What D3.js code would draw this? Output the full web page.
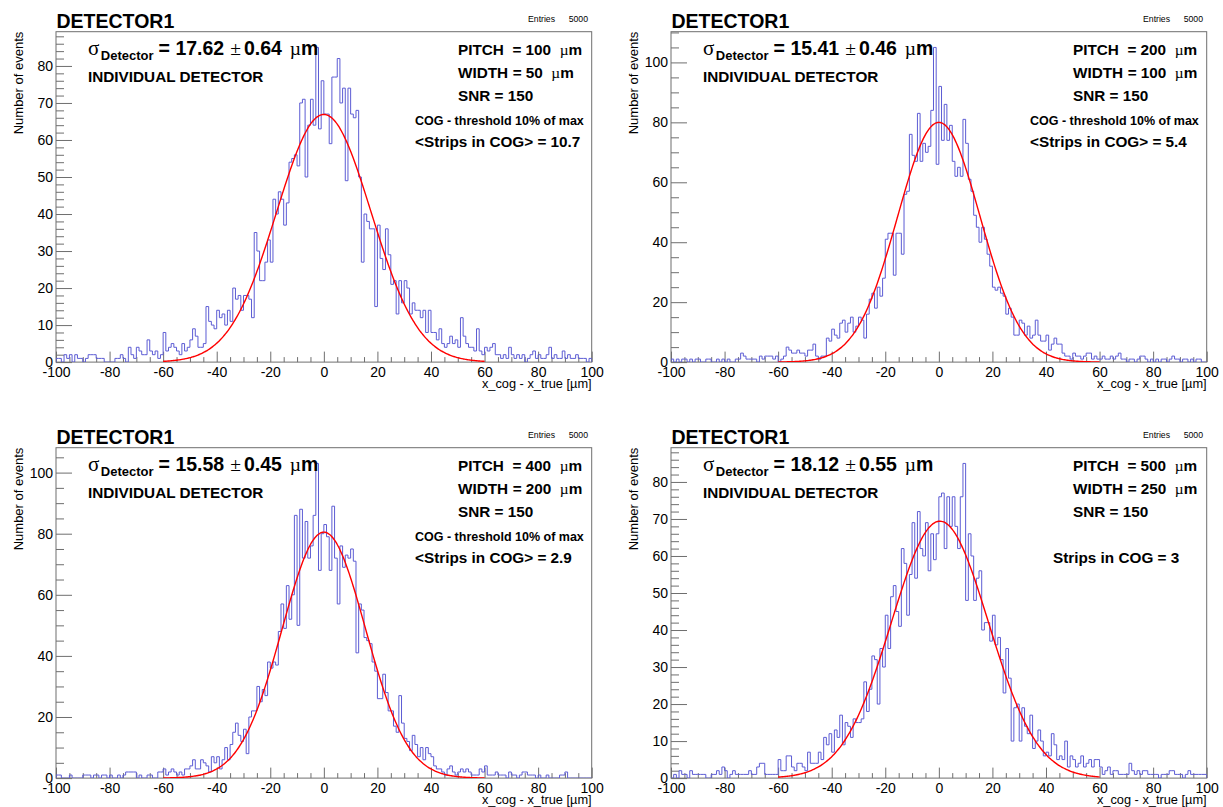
<!DOCTYPE html>
<html>
<head>
<meta charset="utf-8">
<script src="https://cdn.jsdelivr.net/npm/d3@7"></script>
<style>
  body { margin: 0; background: #fff; }
  svg { display: block; }
  text { font-family: "Liberation Sans", Arial, Helvetica, sans-serif; fill: #000; }
</style>
</head>
<body>
<svg id="canvas" width="1223" height="807"></svg>
<script>
// Residual distributions x_cog - x_true, 200 bins of 1 um between -100 and 100.
const binLow = -100;
const binWidth = 1;

const countsPitch100 = [
  1,1,0,2,1,2,0,2,1,1,  0,1,2,2,2,1,1,1,0,0,
  0,0,1,1,2,1,0,4,2,1,  4,3,2,2,6,3,2,3,1,2,
  8,3,4,5,4,3,2,5,3,4,  6,9,7,4,4,5,15,11,10,9,
  14,12,13,10,14,11,20,17,18,14,  18,18,17,12,35,30,22,22,27,33,
  27,44,40,46,44,37,43,54,55,56,  53,70,71,50,64,71,64,85,63,76,
  67,67,59,77,77,82,70,74,49,74,  67,66,68,50,27,40,38,36,36,15,
  37,28,25,36,29,21,22,13,22,16,  22,20,13,16,14,14,12,14,8,14,
  8,8,6,9,5,4,5,7,5,6,  4,12,7,5,4,4,3,9,3,2,
  4,3,4,5,2,2,1,2,1,4,  2,1,2,1,2,0,1,2,3,1,
  2,1,1,2,4,1,2,1,1,3,  1,2,1,1,2,1,1,1,0,1
];

const countsPitch200 = [
  1,0,1,0,1,1,0,1,0,1,  1,0,0,1,1,0,0,1,0,1,
  0,1,0,0,1,1,3,2,1,1,  1,1,0,2,1,2,2,2,1,2,
  0,1,2,5,4,3,3,4,3,3,  2,4,4,6,2,1,2,2,8,7,
  11,9,8,13,14,10,13,15,10,12,  15,14,8,16,21,23,18,25,22,28,
  41,43,43,29,43,43,36,56,57,76,  69,67,83,67,73,70,72,84,105,66,
  92,74,86,74,79,67,62,65,62,81,  73,61,57,49,45,40,45,41,36,32,
  25,24,25,23,22,16,18,15,9,9,  14,13,9,12,8,9,14,9,7,7,
  9,4,6,8,6,6,3,2,2,1,  3,2,2,1,2,3,3,1,2,1,
  1,2,1,1,2,1,2,3,1,1,  0,1,1,0,1,2,2,1,0,1,
  0,1,0,1,1,0,1,2,1,1,  0,1,1,0,1,0,1,1,0,0
];

const countsPitch400 = [
  1,1,0,0,0,1,0,0,0,0,  1,1,1,0,1,1,0,1,1,0,
  1,0,0,1,0,1,2,2,2,2,  0,1,0,0,1,1,0,0,2,2,
  3,1,2,3,2,1,2,1,3,3,  4,6,3,3,6,5,4,2,7,5,
  7,3,6,10,6,11,15,18,14,12,  16,8,20,22,22,30,25,29,27,38,
  36,38,37,48,57,49,63,52,60,86,  50,88,72,84,72,76,86,103,68,80,
  83,79,68,89,72,57,76,69,73,72,  75,71,41,57,55,46,45,44,38,35,
  26,26,34,28,22,22,17,15,27,18,  13,12,9,14,11,7,10,6,10,8,
  7,4,3,3,2,1,3,4,2,1,  2,3,2,3,2,1,1,1,3,2,
  4,1,1,1,2,1,1,1,0,2,  1,1,0,1,2,2,1,1,1,0,
  1,0,0,1,0,0,0,0,1,1,  2,0,0,0,0,0,0,0,0,0
];

const countsPitch500 = [
  0,1,0,2,1,1,0,2,1,1,  1,1,1,0,0,1,1,2,1,3,
  2,0,1,2,1,1,1,1,1,2,  1,1,3,4,4,1,1,1,1,1,
  5,2,2,6,6,3,2,4,4,3,  2,7,4,4,4,7,5,11,9,12,
  7,13,11,17,9,15,14,11,16,15,  15,16,26,18,24,33,32,20,35,30,
  44,35,49,52,45,41,62,58,44,55,  69,54,72,62,60,69,56,66,59,66,
  76,77,62,76,68,76,68,62,76,85,  48,66,60,48,54,56,40,42,42,37,
  44,36,38,32,23,35,27,10,19,20,  10,19,14,12,17,8,10,13,10,6,
  7,6,12,9,5,6,5,10,3,6,  5,3,4,6,3,4,5,3,5,5,
  3,1,2,3,1,2,2,1,1,1,  1,4,2,1,2,1,2,2,1,1,
  1,1,0,1,1,1,2,2,1,1,  1,0,1,2,1,1,1,1,1,1
];

// Gaussian fit results (sigma is the quoted detector resolution)
const sigmaValues   = [17.62, 15.41, 15.58, 18.12];
const sigmaErrors   = [0.64, 0.46, 0.45, 0.55];
const fitAmplitudes = [66.9, 80.0, 80.5, 69.4];
const fitMeans      = [0.0, 0.0, 0.0, 0.4];
const fitRange      = [-60, 60];

// Detector settings per pad
const pitchValues = [100, 200, 400, 500];
const widthValues = [50, 100, 200, 250];
const snrValues   = [150, 150, 150, 150];
const cogLabels   = ["COG - threshold 10% of max", "COG - threshold 10% of max", "COG - threshold 10% of max", ""];
const stripLabels = ["<Strips in COG> = 10.7", "<Strips in COG> = 5.4", "<Strips in COG> = 2.9", "Strips in COG = 3"];
const entryCounts = [5000, 5000, 5000, 5000];
const histTitles  = ["DETECTOR1", "DETECTOR1", "DETECTOR1", "DETECTOR1"];

// Axis ticks
const xTickLabels = [-100, -80, -60, -40, -20, 0, 20, 40, 60, 80, 100];
const xMinorStep = 5;
const yTickLabels = [
  [0, 10, 20, 30, 40, 50, 60, 70, 80],
  [0, 20, 40, 60, 80, 100],
  [0, 20, 40, 60, 80, 100],
  [0, 10, 20, 30, 40, 50, 60, 70, 80]
];
const yMinorSteps = [2, 5, 5, 2];

const xAxisTitle = "x_cog - x_true [\u00b5m]";
const yAxisTitle = "Number of events";

// ---- layout ----
const frameW = 535.7, frameH = 330.4;
const frameOrigins = [[56, 31.7], [671, 31.7], [56, 447.7], [671, 447.7]];
const lineGrey = "#6e6e6e";
const histBlue = "#5c5cd4";
const serif = "'Liberation Serif', 'DejaVu Serif', serif";

const svg = d3.select("#canvas");
svg.append("rect").attr("width", 1223).attr("height", 807).attr("fill", "#fff");

const countsByPad = [countsPitch100, countsPitch200, countsPitch400, countsPitch500];

function styleAxis(sel) {
  sel.attr("font-family", null).attr("font-size", null);
  sel.select(".domain").remove();
  sel.selectAll(".tick line").attr("stroke", lineGrey).attr("stroke-width", 1);
  sel.selectAll(".tick text").attr("font-size", 14).attr("fill", "#000");
}

countsByPad.forEach((counts, p) => {
  const [fx, fy] = frameOrigins[p];
  const g = svg.append("g").attr("transform", `translate(${fx},${fy})`);

  const x = d3.scaleLinear()
    .domain([xTickLabels[0], xTickLabels[xTickLabels.length - 1]])
    .range([0, frameW]);
  const yMax = 1.05 * d3.max(counts);
  const y = d3.scaleLinear().domain([0, yMax]).range([frameH, 0]);

  const clipId = `frame-clip-${p}`;
  g.append("clipPath").attr("id", clipId)
    .append("rect").attr("x", 0).attr("y", 0).attr("width", frameW).attr("height", frameH);

  // frame box
  g.append("rect")
    .attr("x", 0).attr("y", 0).attr("width", frameW).attr("height", frameH)
    .attr("fill", "none").attr("stroke", lineGrey).attr("stroke-width", 1);

  // x axis: minor and major ticks pointing into the frame
  const xMinor = d3.range(xTickLabels[0], xTickLabels[xTickLabels.length - 1] + 0.001, xMinorStep)
    .filter(v => !xTickLabels.includes(v));
  g.append("g").attr("transform", `translate(0,${frameH})`)
    .call(d3.axisBottom(x).tickValues(xMinor).tickSize(-5).tickFormat(""))
    .call(styleAxis);
  g.append("g").attr("transform", `translate(0,${frameH})`)
    .call(d3.axisBottom(x).tickValues(xTickLabels).tickSize(-10.5).tickPadding(4.8).tickFormat(d => String(d)))
    .call(styleAxis);

  // y axis
  const yTicks = yTickLabels[p];
  const yMinor = d3.range(0, yMax, yMinorSteps[p]).filter(v => !yTicks.includes(v));
  g.append("g")
    .call(d3.axisLeft(y).tickValues(yMinor).tickSize(-8).tickFormat(""))
    .call(styleAxis);
  g.append("g")
    .call(d3.axisLeft(y).tickValues(yTicks).tickSize(-16).tickPadding(3).tickFormat(d => String(d)))
    .call(styleAxis);

  // histogram outline
  const pts = [[binLow, 0]];
  counts.forEach((c, i) => pts.push([binLow + i * binWidth, c]));
  pts.push([binLow + counts.length * binWidth, counts[counts.length - 1]]);
  pts.push([binLow + counts.length * binWidth, 0]);
  const stepLine = d3.line().x(d => x(d[0])).y(d => y(d[1])).curve(d3.curveStepAfter);
  g.append("path")
    .attr("clip-path", `url(#${clipId})`)
    .attr("d", stepLine(pts))
    .attr("fill", "none").attr("stroke", histBlue).attr("stroke-width", 1);

  // Gaussian fit over the fit range
  const amp = fitAmplitudes[p], mu = fitMeans[p], sg = sigmaValues[p];
  const fitPts = d3.range(fitRange[0], fitRange[1] + 0.001, 0.5)
    .map(v => [v, amp * Math.exp(-0.5 * ((v - mu) / sg) ** 2)]);
  g.append("path")
    .attr("clip-path", `url(#${clipId})`)
    .attr("d", d3.line().x(d => x(d[0])).y(d => y(d[1])).curve(d3.curveMonotoneX)(fitPts))
    .attr("fill", "none").attr("stroke", "#ff0000").attr("stroke-width", 1.4);

  // axis titles
  g.append("text")
    .attr("x", frameW).attr("y", frameH + 26.4)
    .attr("text-anchor", "end").attr("font-size", 12.8)
    .text(xAxisTitle);
  g.append("text")
    .attr("transform", "translate(-33,0) rotate(-90)")
    .attr("text-anchor", "end").attr("font-size", 13)
    .text(yAxisTitle);

  // histogram title and statistics
  g.append("text")
    .attr("x", 0.5).attr("y", -3.8)
    .attr("font-size", 19.5).attr("font-weight", "bold")
    .text(histTitles[p]);
  g.append("text").attr("x", 472).attr("y", -10.2).attr("font-size", 8.7).text("Entries");
  g.append("text").attr("x", 532).attr("y", -10.2).attr("font-size", 8.7)
    .attr("text-anchor", "end").text(String(entryCounts[p]));

  // resolution label
  const sig = g.append("text")
    .attr("x", 32).attr("y", 23.6)
    .attr("font-size", 19.5).attr("font-weight", "bold");
  sig.append("tspan").attr("font-family", serif).attr("font-weight", "normal").attr("font-size", 21).text("\u03c3");
  sig.append("tspan").attr("font-size", 13).attr("dx", 1.5).attr("dy", 5).text("Detector");
  sig.append("tspan").attr("dx", 5).attr("dy", -5).text(`= ${sigmaValues[p].toFixed(2)}`);
  sig.append("tspan").attr("font-family", serif).attr("font-weight", "normal").attr("dx", 6).text("\u00b1");
  sig.append("tspan").attr("dx", 3).text(sigmaErrors[p].toFixed(2));
  sig.append("tspan").attr("font-family", serif).attr("font-weight", "normal").attr("dx", 8).text("\u00b5");
  sig.append("tspan").text("m");

  g.append("text")
    .attr("x", 32).attr("y", 50.8)
    .attr("font-size", 15.3).attr("font-weight", "bold")
    .text("INDIVIDUAL DETECTOR");

  // detector settings
  const setting = (yPos, parts) => {
    const t = g.append("text").attr("x", 402).attr("y", yPos)
      .attr("font-size", 15.3).attr("font-weight", "bold");
    parts.forEach(pt => {
      const s = t.append("tspan").text(pt.t);
      if (pt.dx) s.attr("dx", pt.dx);
      if (pt.serif) s.attr("font-family", serif).attr("font-weight", "normal");
    });
  };
  setting(23.2, [{ t: "PITCH" }, { t: `= ${pitchValues[p]}`, dx: 8.5 }, { t: "\u00b5", dx: 8.5, serif: true }, { t: "m" }]);
  setting(46.5, [{ t: "WIDTH" }, { t: `= ${widthValues[p]}`, dx: 4.5 }, { t: "\u00b5", dx: 8.5, serif: true }, { t: "m" }]);
  setting(69.8, [{ t: `SNR = ${snrValues[p]}` }]);

  if (cogLabels[p]) {
    g.append("text").attr("x", 359).attr("y", 93.2)
      .attr("font-size", 12.5).attr("font-weight", "bold")
      .text(cogLabels[p]);
  }
  g.append("text").attr("x", cogLabels[p] ? 359 : 382).attr("y", 115.6)
    .attr("font-size", 15.3).attr("font-weight", "bold")
    .text(stripLabels[p]);
});
</script>
</body>
</html>
